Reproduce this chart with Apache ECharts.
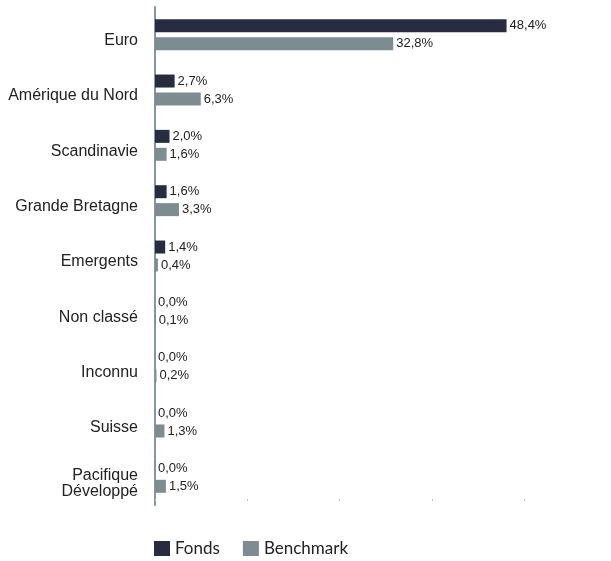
<!DOCTYPE html>
<html>
<head>
<meta charset="utf-8">
<script src="https://cdn.jsdelivr.net/npm/echarts@6/dist/echarts.min.js"></script>
<style>
  html, body { margin: 0; padding: 0; background: #fff; }
  #chart { width: 611px; height: 561px; }
</style>
</head>
<body>
<div id="chart"></div>
<script>
// zones géographiques
var categories = ['Euro', 'Amérique du Nord', 'Scandinavie', 'Grande Bretagne', 'Emergents',
  'Non classé', 'Inconnu', 'Suisse', 'Pacifique\nDéveloppé'];
var fonds = [48.4, 2.7, 2.0, 1.6, 1.4, 0.0, 0.0, 0.0, 0.0];
var benchmark = [32.8, 6.3, 1.6, 3.3, 0.4, 0.1, 0.2, 1.3, 1.5];

var FONT = '"Liberation Sans", Arial, sans-serif';

function pct(p) {
  return p.value.toFixed(1).replace('.', ',') + '%';
}

// a small empty line on top pushes the text a bit below the bars' centre
function catLabel(v) {
  return '{s| }\n' + v.split('\n').map(function (s) {
    return '{a|' + s + '}';
  }).join('\n');
}

var chart = echarts.init(document.getElementById('chart'));
chart.setOption({
  animation: false,
  grid: { left: 155, right: 87, top: 7, bottom: 56 },
  legend: {
    left: 154,
    top: 540,
    padding: 0,
    itemWidth: 16,
    itemHeight: 15,
    itemGap: 23,
    icon: 'rect',
    textStyle: { fontFamily: 'Lato', fontSize: 17, color: '#222' },
    data: ['Fonds', 'Benchmark']
  },
  xAxis: {
    type: 'value',
    min: 0,
    max: 50.8,
    interval: 12.7,
    offset: -6,
    axisLine: { show: false },
    axisTick: { show: true, length: 2, lineStyle: { color: '#b8c0c4' } },
    axisLabel: { show: false },
    splitLine: { show: false }
  },
  yAxis: {
    type: 'category',
    inverse: true,
    data: categories,
    axisLine: { lineStyle: { color: '#8797a0', width: 2 } },
    axisTick: { length: 8, lineStyle: { color: '#8797a0', width: 2 } },
    axisLabel: {
      margin: 17,
      formatter: catLabel,
      rich: {
        s: { fontSize: 10, lineHeight: 12 },
        a: { fontFamily: FONT, fontSize: 16, color: '#222', lineHeight: 16 }
      }
    }
  },
  series: [
    {
      name: 'Fonds',
      type: 'bar',
      data: fonds,
      barWidth: 13,
      barGap: '38%',
      itemStyle: { color: '#282c41' },
      label: { show: true, position: 'right', distance: 3, fontFamily: FONT, fontSize: 13, color: '#222', formatter: pct }
    },
    {
      name: 'Benchmark',
      type: 'bar',
      data: benchmark,
      barWidth: 13,
      itemStyle: { color: '#7c8c91' },
      label: { show: true, position: 'right', distance: 3, fontFamily: FONT, fontSize: 13, color: '#222', formatter: pct }
    }
  ]
});
</script>
</body>
</html>
